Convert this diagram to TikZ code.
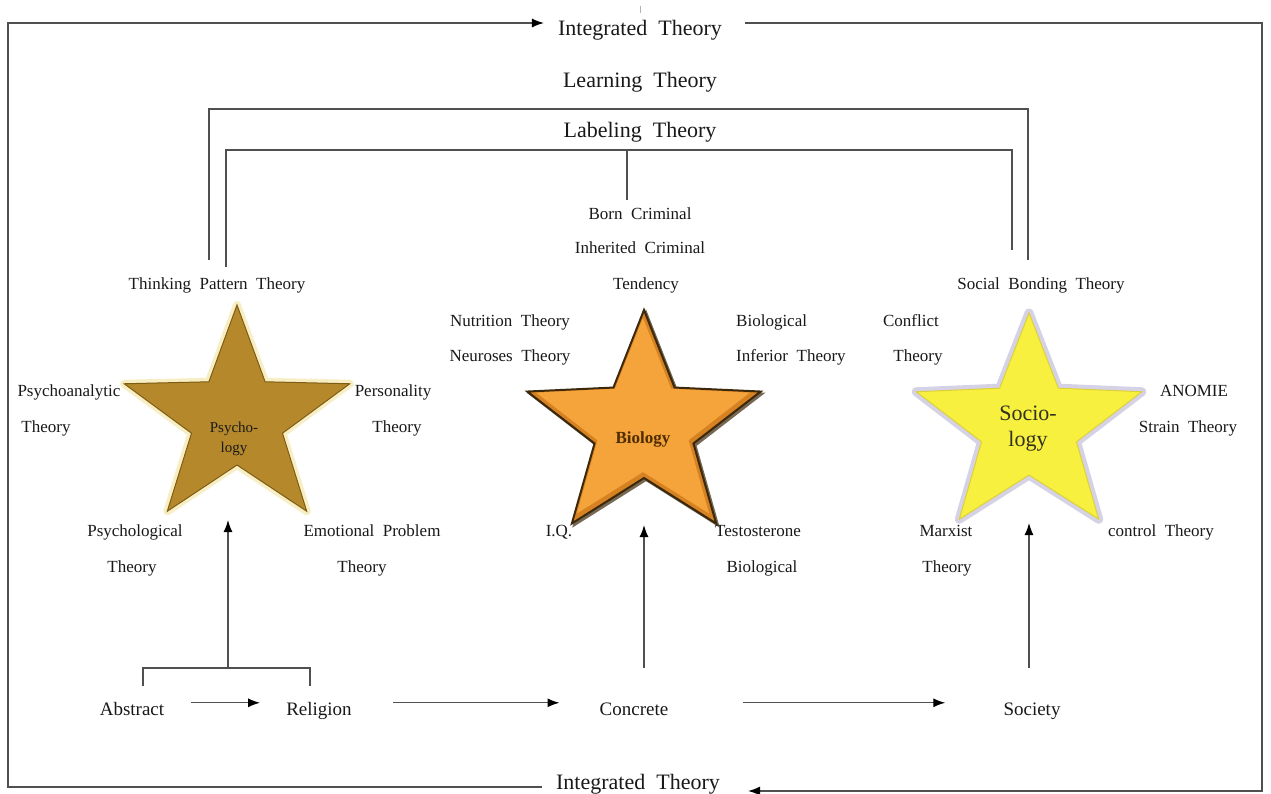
\documentclass[tikz,border=0pt]{standalone}
\usepackage{fontspec}
\setmainfont[WordSpace=2]{Liberation Serif}
\usetikzlibrary{arrows.meta}
\definecolor{ln}{RGB}{80,80,80}
\definecolor{psyfill}{RGB}{181,137,43}
\definecolor{psyglow}{RGB}{248,238,196}
\definecolor{psyedge}{RGB}{125,92,22}
\definecolor{biofill}{RGB}{244,164,58}
\definecolor{bioshade}{RGB}{214,130,34}
\definecolor{bioedge}{RGB}{60,40,10}
\definecolor{socfill}{RGB}{247,240,62}
\definecolor{socglow}{RGB}{214,210,230}
\definecolor{socedge}{RGB}{220,208,60}
\definecolor{txt}{RGB}{25,25,25}
\newcommand\mystar[5]{\path[#5, shift={(#1,#2)}, xscale=1.04] (-90:#3) -- (-54:#4) -- (-18:#3) -- (18:#4) -- (54:#3) -- (90:#4) -- (126:#3) -- (162:#4) -- (198:#3) -- (234:#4) -- cycle;}
\tikzset{
 conn/.style={draw=ln, line width=1.3pt},
 arr/.style={conn, -{Latex[length=12pt,width=9pt,color=black]}},
 big/.style={font=\fontsize{22}{24}\selectfont, text=txt, inner sep=0pt, anchor=base},
 lbl/.style={font=\fontsize{17}{19}\selectfont, text=txt, inner sep=0pt, anchor=base},
 bot/.style={font=\fontsize{19}{21}\selectfont, text=txt, inner sep=0pt, text height=12pt, text depth=4pt},
}
\begin{document}
\begin{tikzpicture}[x=1pt,y=-1pt]
\useasboundingbox (0,0) rectangle (1271,794);
\fill[white] (0,0) rectangle (1271,794);

% stars
\mystar{237}{419}{114}{46}{draw=psyglow, line width=8pt, line join=round}
\mystar{237}{419}{114}{46}{fill=psyfill, draw=psyedge, line width=1pt}
\mystar{646}{430}{118}{50}{fill=bioedge!70, draw=bioedge!70, line width=2pt, line join=miter}
\mystar{644}{428}{118}{50}{fill=bioshade, draw=bioedge, line width=2pt, line join=miter}
\mystar{643}{426}{108}{46}{fill=biofill}
\mystar{1029}{427}{114}{48}{draw=socglow, line width=9pt, line join=round}
\mystar{1029}{427}{114}{48}{fill=socfill, draw=socedge, line width=1pt}

\node[font=\fontsize{15}{20}\selectfont, text=txt, align=center, inner sep=0pt] (psy) at (234,439) {Psycho-\\logy};
\node[font=\bfseries\fontsize{17}{19}\selectfont, text={rgb,255:red,80;green,45;blue,0}, inner sep=0pt, anchor=base] (bio) at (643,443) {Biology};
\node[font=\fontsize{22}{26}\selectfont, text={rgb,255:red,50;green,50;blue,30}, align=center, inner sep=0pt] (socy) at (1028,429) {Socio-\\logy};

% big titles
\node[big] (intT) at (640,36) {Integrated Theory};
\node[big] (lrn) at (640,88) {Learning Theory};
\node[big] (lab) at (640,138) {Labeling Theory};
\node[big] (intB) at (638,789) {Integrated Theory};

% labels - psychology
\node[lbl] (tpt) at (217,290) {Thinking Pattern Theory};
\node[lbl] (pa1) at (69,396) {Psychoanalytic};
\node[lbl] (pa2) at (46,432) {Theory};
\node[lbl] (pe1) at (393,396) {Personality};
\node[lbl] (pe2) at (397,432) {Theory};
\node[lbl] (pl1) at (135,536) {Psychological};
\node[lbl] (pl2) at (132,572) {Theory};
\node[lbl] (em1) at (372,536) {Emotional Problem};
\node[lbl] (em2) at (362,572) {Theory};
% labels - biology
\node[lbl] (born) at (640,220) {Born Criminal};
\node[lbl] (inh) at (640,254) {Inherited Criminal};
\node[lbl] (tend) at (646,290) {Tendency};
\node[lbl] (nut) at (510,326) {Nutrition Theory};
\node[lbl] (neu) at (510,361) {Neuroses Theory};
\node[lbl, anchor=base west] (bi1) at (736,326) {Biological};
\node[lbl, anchor=base west] (bi2) at (736,361) {Inferior Theory};
\node[lbl] (iq) at (559,536) {I.Q.};
\node[lbl] (tes) at (758,536) {Testosterone};
\node[lbl] (bi3) at (762,572) {Biological};
% labels - sociology
\node[lbl] (sbt) at (1041,290) {Social Bonding Theory};
\node[lbl] (cf1) at (911,326) {Conflict};
\node[lbl] (cf2) at (918,361) {Theory};
\node[lbl] (an1) at (1194,396) {ANOMIE};
\node[lbl] (an2) at (1188,432) {Strain Theory};
\node[lbl] (mx1) at (946,536) {Marxist};
\node[lbl] (mx2) at (947,572) {Theory};
\node[lbl] (ctl) at (1161,536) {control Theory};

% bottom row
\node[bot] (abs) at (132,711) {Abstract};
\node[bot] (rel) at (319,711) {Religion};
\node[bot] (conc) at (634,711) {Concrete};
\node[bot] (soc) at (1032,711) {Society};

% coordinates
\coordinate (fTL) at (8,23);
\coordinate (fBL) at (8,787);
\coordinate (fTR) at (1262,23);
\coordinate (fBR) at (1262,791);
\coordinate (lrnL) at (209,260);
\coordinate (lrnT) at (209,109);
\coordinate (lrnR) at (1028,260);
\coordinate (labL) at (226,267);
\coordinate (labT) at (226,150);
\coordinate (labR) at (1012,250);
\coordinate (bornT) at (627,150);
\coordinate (bornB) at (627,200);
\coordinate (brL) at (143,686);
\coordinate (brM) at (228,668);
\coordinate (brR) at (310,686);
\coordinate (psyTip) at (228,520);
\coordinate (cStem) at (644,668);
\coordinate (bioTip) at (644,525);
\coordinate (sStem) at (1029,668);
\coordinate (socTip) at (1029,523);
\coordinate (tickA) at (640,6);
\coordinate (tickB) at (640,13);

% frame
\draw[arr, shorten <=14pt, shorten >=14pt] (fBL -| intB.west) -- (fBL) -- (fTL) -- (fTL -| intT.west);
\draw[arr, shorten <=23pt, shorten >=28pt] (fTR -| intT.east) -- (fTR) -- (fBR) -- (fBR -| intB.east);
\draw[draw=gray!60, line width=0.8pt] (tickA) -- (tickB);

% brackets
\draw[conn] (lrnL) -- (lrnT) -| (lrnR);
\draw[conn] (labL) -- (labT) -| (labR);
\draw[conn] (bornT) -- (bornB);
\draw[conn] (brL) |- (brM) -| (brR);

% vertical arrows
\draw[arr] (brM) -- (psyTip);
\draw[arr] (cStem) -- (bioTip);
\draw[arr] (sStem) -- (socTip);

% horizontal arrows
\draw[arr, shorten <=27pt, shorten >=26pt] (abs.north east) -- (rel.north west);
\draw[arr, shorten <=41pt, shorten >=40pt] (rel.north east) -- (conc.north west);
\draw[arr, shorten <=75pt, shorten >=58pt] (conc.north east) -- (soc.north west);
\end{tikzpicture}
\end{document}
